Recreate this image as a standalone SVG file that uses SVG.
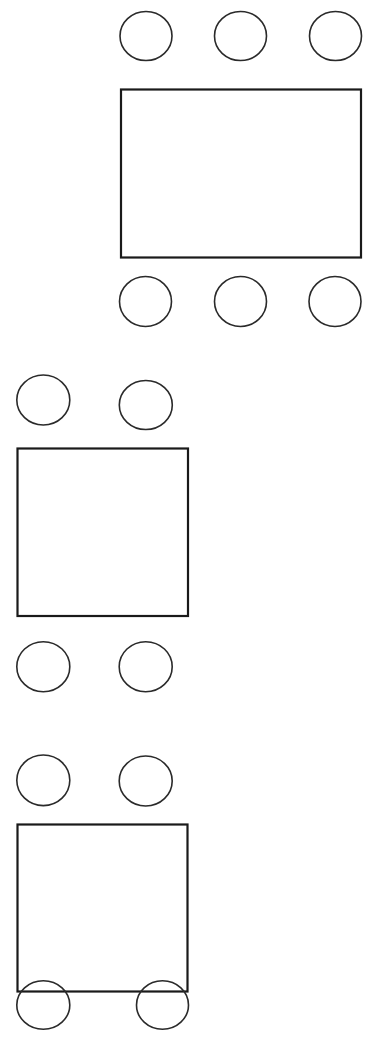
<svg xmlns="http://www.w3.org/2000/svg" width="370" height="1037" viewBox="0 0 370 1037">
<style>
.table{fill:none;stroke:#1a1a1a;stroke-width:2.2}
.chair{fill:none;stroke:#2a2a2a;stroke-width:1.6}
</style>
<rect width="370" height="1037" fill="#ffffff"/>
<g id="layout1">
  <g id="t1-chairs-top">
    <ellipse class="chair" cx="146" cy="36" rx="26" ry="24.5"/>
    <ellipse class="chair" cx="240.5" cy="36" rx="26" ry="24.5"/>
    <ellipse class="chair" cx="335.5" cy="36" rx="26" ry="24.5"/>
  </g>
  <rect id="table1" class="table" x="121" y="89.5" width="240" height="168"/>
  <g id="t1-chairs-bottom">
    <ellipse class="chair" cx="145.5" cy="301.5" rx="26" ry="25"/>
    <ellipse class="chair" cx="240.5" cy="301.5" rx="26" ry="25"/>
    <ellipse class="chair" cx="335" cy="301.5" rx="26" ry="25"/>
  </g>
</g>
<g id="layout2">
  <g id="t2-chairs-top">
    <ellipse class="chair" cx="43.3" cy="400" rx="26.5" ry="25"/>
    <ellipse class="chair" cx="145.8" cy="405" rx="26.5" ry="24.5"/>
  </g>
  <rect id="table2" class="table" x="17.5" y="448.5" width="170.5" height="167.5"/>
  <g id="t2-chairs-bottom">
    <ellipse class="chair" cx="43.3" cy="666.7" rx="26.5" ry="25"/>
    <ellipse class="chair" cx="145.7" cy="666.7" rx="26.5" ry="25"/>
  </g>
</g>
<g id="layout3">
  <g id="t3-chairs-top">
    <ellipse class="chair" cx="43.3" cy="780.3" rx="26.5" ry="25.3"/>
    <ellipse class="chair" cx="145.7" cy="781" rx="26.5" ry="25"/>
  </g>
  <rect id="table3" class="table" x="17.5" y="824.5" width="170" height="167"/>
  <g id="t3-chairs-bottom">
    <ellipse class="chair" cx="43.3" cy="1005" rx="26.5" ry="24.2"/>
    <ellipse class="chair" cx="162.5" cy="1005" rx="26" ry="24.2"/>
  </g>
</g>
</svg>
